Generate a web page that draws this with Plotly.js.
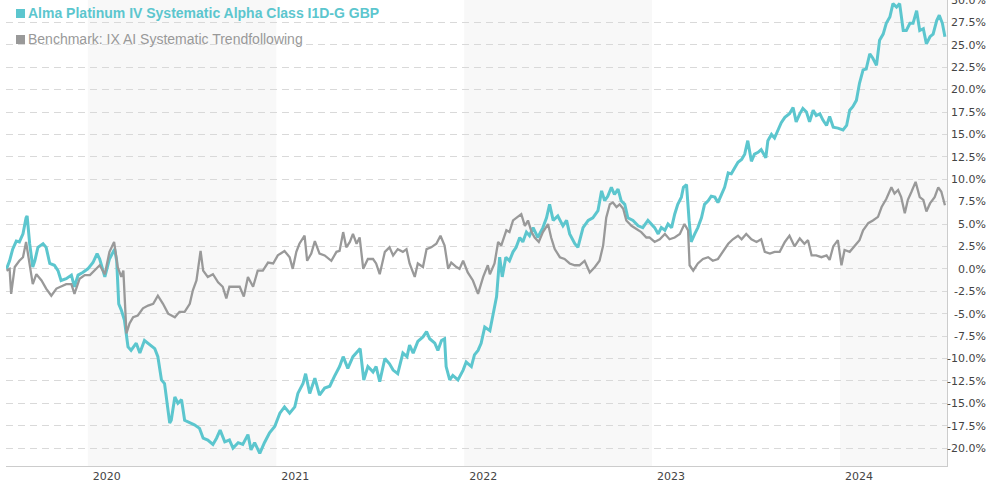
<!DOCTYPE html>
<html>
<head>
<meta charset="utf-8">
<script src="https://cdn.plot.ly/plotly-3.0.1.min.js"></script>
<style>
  html, body { margin: 0; padding: 0; background: #ffffff; }
  #chart { width: 989px; height: 485px; }
</style>
</head>
<body>
<div id="chart"></div>
<script>
// ---- Data ----
const fundName = 'Alma Platinum IV Systematic Alpha Class I1D-G GBP';
const benchName = 'Benchmark: IX AI Systematic Trendfollowing';

const fundDates = [
'2019-07-27','2019-08-02','2019-08-08','2019-08-15','2019-08-21','2019-08-28','2019-09-03','2019-09-05','2019-09-10','2019-09-16',
'2019-09-20','2019-09-26','2019-10-06','2019-10-12','2019-10-19','2019-10-28','2019-11-04','2019-11-10','2019-11-20','2019-11-30',
'2019-12-06','2019-12-13','2019-12-22','2020-01-01','2020-01-11','2020-01-19','2020-01-24','2020-02-03','2020-02-12','2020-02-22',
'2020-02-26','2020-03-01','2020-03-06','2020-03-12','2020-03-19','2020-03-25','2020-04-04','2020-04-11','2020-04-20','2020-04-30',
'2020-05-10','2020-05-16','2020-05-23','2020-05-29','2020-06-05','2020-06-08',
'2020-06-11','2020-06-18','2020-06-24','2020-07-01','2020-07-07','2020-07-17','2020-07-26','2020-08-05','2020-08-12','2020-08-21',
'2020-08-31','2020-09-07','2020-09-14','2020-09-23','2020-10-02','2020-10-09','2020-10-19','2020-10-28','2020-11-07','2020-11-13',
'2020-11-20','2020-11-30','2020-12-09','2020-12-19','2020-12-29','2021-01-08','2021-01-17','2021-01-27','2021-02-06','2021-02-12',
'2021-02-22','2021-02-27','2021-03-07','2021-03-17','2021-03-26','2021-04-05',
'2021-04-15','2021-04-24','2021-05-04','2021-05-11','2021-05-20','2021-05-30','2021-06-06','2021-06-13','2021-06-20','2021-06-28',
'2021-07-08','2021-07-14','2021-07-21','2021-07-31','2021-08-09','2021-08-16','2021-08-25','2021-09-04','2021-09-12','2021-09-17',
'2021-09-24','2021-10-03','2021-10-13','2021-10-20','2021-10-26','2021-11-05','2021-11-11','2021-11-18','2021-11-24','2021-11-27',
'2021-12-04','2021-12-10','2021-12-20','2021-12-30','2022-01-05','2022-01-15','2022-01-21','2022-01-28','2022-02-03','2022-02-10',
'2022-02-20','2022-02-26','2022-03-05','2022-03-11',
'2022-03-16','2022-03-23','2022-03-30','2022-04-06','2022-04-12','2022-04-19','2022-04-25','2022-05-02','2022-05-08','2022-05-15',
'2022-05-24','2022-06-03','2022-06-10','2022-06-16','2022-06-23','2022-07-02','2022-07-12','2022-07-19','2022-07-25','2022-08-04',
'2022-08-10','2022-08-20','2022-08-30','2022-09-08','2022-09-18','2022-09-25','2022-10-01','2022-10-07','2022-10-14','2022-10-20',
'2022-10-27','2022-11-02','2022-11-09','2022-11-15','2022-11-25','2022-12-05','2022-12-14','2022-12-24',
'2023-01-06','2023-01-13','2023-01-19','2023-01-26','2023-02-01','2023-02-08','2023-02-14','2023-02-20','2023-02-27','2023-03-03',
'2023-03-09','2023-03-14','2023-03-18','2023-03-25','2023-03-31','2023-04-07','2023-04-13','2023-04-20','2023-04-26','2023-05-03',
'2023-05-09','2023-05-16','2023-05-22','2023-05-29','2023-06-04','2023-06-11','2023-06-17','2023-06-24','2023-06-30','2023-07-06',
'2023-07-13','2023-07-19','2023-07-26','2023-08-01','2023-08-10','2023-08-14','2023-08-21','2023-08-27','2023-09-03','2023-09-09',
'2023-09-16','2023-09-22',
'2023-09-25','2023-10-02','2023-10-08','2023-10-15','2023-10-21','2023-10-28','2023-11-03','2023-11-10','2023-11-16','2023-11-23',
'2023-11-29','2023-12-06','2023-12-12','2023-12-19','2023-12-28','2024-01-07','2024-01-14','2024-01-20','2024-01-26','2024-02-02',
'2024-02-08','2024-02-15','2024-02-21','2024-02-28','2024-03-05','2024-03-12','2024-03-18','2024-03-25','2024-03-31','2024-04-07',
'2024-04-13','2024-04-20','2024-04-26','2024-05-03','2024-05-09','2024-05-16','2024-05-22','2024-05-29','2024-06-04','2024-06-11',
'2024-06-17','2024-06-24','2024-06-30','2024-07-07','2024-07-12','2024-07-18','2024-07-23'
];
const fundValues = [
0.0,0.9,2.2,3.1,3.0,3.9,5.7,5.9,2.8,0.2,
0.9,2.4,2.8,2.4,0.6,0.4,-0.2,-1.3,-1.1,-0.7,
-2.0,-0.7,-0.4,0.0,0.7,1.7,1.1,-0.9,1.1,2.2,
0.9,-3.9,-4.6,-5.7,-8.7,-9.1,-8.3,-9.4,-8.0,-8.5,
-8.9,-9.8,-12.4,-12.8,-16.1,-17.2,
-16.9,-14.3,-15.0,-14.6,-16.9,-17.2,-17.4,-17.8,-18.9,-19.1,
-19.6,-18.9,-18.0,-19.3,-19.1,-20.0,-19.4,-19.6,-18.5,-20.2,
-19.4,-20.6,-19.4,-18.3,-17.6,-16.1,-15.4,-16.1,-15.4,-13.9,
-12.8,-11.7,-13.9,-12.2,-14.1,-13.3,
-13.1,-12.0,-10.9,-9.8,-11.1,-9.8,-9.4,-8.9,-12.4,-10.9,
-11.5,-10.9,-12.6,-10.0,-10.6,-11.3,-11.7,-9.4,-9.8,-8.5,
-9.4,-8.1,-7.6,-7.0,-7.8,-8.3,-9.1,-8.0,-7.8,-10.9,
-12.4,-11.9,-12.4,-11.3,-10.4,-10.9,-9.6,-9.1,-8.3,-6.5,
-6.9,-5.0,-3.1,1.3,
-0.9,1.3,0.9,1.9,2.4,3.5,3.0,4.1,3.7,4.6,
3.5,4.6,5.7,7.2,5.4,5.9,4.8,5.4,3.9,2.8,
2.4,4.6,5.4,5.7,6.5,8.7,7.6,8.1,9.1,8.3,
8.9,7.6,7.2,5.7,5.4,4.8,4.6,5.4,
4.6,3.9,4.6,4.3,5.0,4.6,6.1,7.2,8.0,9.1,
9.4,5.4,3.0,3.9,4.6,5.7,7.2,7.6,8.1,8.0,
7.4,8.3,9.1,10.7,10.6,11.3,11.9,12.2,12.8,14.3,
12.0,12.8,13.0,13.3,12.4,14.3,15.0,14.6,15.6,16.3,
16.9,17.2,
17.3,18.0,16.4,17.3,17.9,17.5,16.4,17.7,17.1,17.3,
16.6,16.0,17.0,15.8,15.7,15.5,16.0,17.7,18.1,18.8,
20.7,22.2,22.3,24.0,23.5,22.7,25.5,26.2,27.4,28.1,
29.6,29.2,29.6,26.6,26.6,27.4,27.4,28.8,26.6,26.8,
25.1,25.9,26.2,27.7,28.3,27.4,25.9
];

const benchDates = [
'2019-07-27','2019-08-02','2019-08-05','2019-08-12','2019-08-21','2019-08-28','2019-09-03','2019-09-10','2019-09-16','2019-09-23',
'2019-10-03','2019-10-12','2019-10-22','2019-11-01','2019-11-10','2019-11-20','2019-11-30','2019-12-06','2019-12-16','2019-12-26',
'2020-01-05','2020-01-14','2020-01-24','2020-02-03','2020-02-12','2020-02-21','2020-02-28','2020-03-06','2020-03-10','2020-03-16',
'2020-03-22','2020-03-29','2020-04-07','2020-04-17','2020-04-27','2020-05-07','2020-05-16','2020-05-26','2020-06-05',
'2020-06-18','2020-06-27','2020-07-07','2020-07-17','2020-07-23','2020-07-30','2020-08-07','2020-08-12','2020-08-21','2020-08-31',
'2020-09-10','2020-09-19','2020-09-26','2020-10-02','2020-10-12','2020-10-22','2020-10-30','2020-11-07','2020-11-17','2020-11-26',
'2020-12-06','2020-12-16','2020-12-26','2021-01-04','2021-01-17','2021-01-27','2021-02-02','2021-02-09','2021-02-15','2021-02-25',
'2021-03-02','2021-03-10','2021-03-17','2021-03-26','2021-04-05',
'2021-04-18','2021-04-28','2021-05-04','2021-05-11','2021-05-17','2021-05-24','2021-05-30','2021-06-06','2021-06-12','2021-06-19',
'2021-06-28','2021-07-08','2021-07-14','2021-07-21','2021-07-31','2021-08-09','2021-08-16','2021-08-25','2021-09-04','2021-09-11',
'2021-09-17','2021-09-27','2021-10-03','2021-10-13','2021-10-20','2021-10-29','2021-11-08','2021-11-16','2021-11-24','2021-12-01',
'2021-12-07','2021-12-17','2021-12-23','2021-12-30','2022-01-08','2022-01-18','2022-01-28','2022-02-07','2022-02-16',
'2022-02-20','2022-03-01','2022-03-08','2022-03-14','2022-03-24','2022-03-30','2022-04-06','2022-04-16','2022-04-22','2022-04-29',
'2022-05-05','2022-05-12','2022-05-18','2022-05-26','2022-06-03','2022-06-13','2022-06-19','2022-06-26','2022-07-06','2022-07-15',
'2022-07-25','2022-08-04','2022-08-13','2022-08-23','2022-09-02','2022-09-12','2022-09-21','2022-09-28','2022-10-04','2022-10-11',
'2022-10-17','2022-10-24','2022-10-30','2022-11-06','2022-11-12','2022-11-22','2022-12-02','2022-12-11','2022-12-21',
'2022-12-27','2023-01-06','2023-01-16','2023-01-26','2023-02-04','2023-02-14','2023-02-24','2023-03-05','2023-03-12','2023-03-15',
'2023-03-22','2023-03-31','2023-04-10','2023-04-20','2023-04-29','2023-05-09','2023-05-19','2023-05-29','2023-06-07','2023-06-17',
'2023-06-24','2023-07-03','2023-07-13','2023-07-23','2023-08-01','2023-08-08','2023-08-18','2023-08-27','2023-09-06','2023-09-16',
'2023-09-25',
'2023-10-05','2023-10-15','2023-10-24','2023-10-31','2023-11-07','2023-11-16','2023-11-26','2023-12-06','2023-12-12','2023-12-19',
'2023-12-28','2024-01-04','2024-01-10','2024-01-20','2024-01-30','2024-02-08','2024-02-15','2024-02-25','2024-03-05','2024-03-15',
'2024-03-22','2024-03-31','2024-04-10','2024-04-16','2024-04-23','2024-04-29','2024-05-06','2024-05-12','2024-05-19','2024-05-27',
'2024-06-04','2024-06-11','2024-06-17','2024-06-24','2024-07-03','2024-07-10','2024-07-16','2024-07-23'
];
const benchValues = [
-0.2,0.0,-2.8,0.2,0.9,1.3,3.0,0.2,-1.7,-0.6,
-1.3,-2.2,-3.0,-2.2,-2.0,-1.7,-1.7,-2.8,-1.1,-0.7,
-0.7,-0.2,0.4,-0.6,1.9,3.0,0.2,-0.9,-0.2,-7.2,
-6.1,-5.4,-5.2,-4.4,-4.1,-3.9,-3.0,-3.9,-5.0,
-5.4,-4.8,-4.8,-3.9,-2.4,-1.3,2.0,-0.2,-0.9,-0.6,
-1.5,-2.0,-3.3,-2.0,-2.0,-2.0,-3.1,-0.9,-2.0,-0.2,
-0.2,0.7,0.6,1.5,2.0,1.3,0.0,1.9,2.8,3.7,
0.9,1.7,3.1,1.7,1.5,
0.9,1.9,2.0,4.1,2.4,3.0,3.9,2.8,3.5,0.0,
1.1,1.1,0.6,-0.6,1.9,2.4,1.5,2.2,1.9,2.2,
0.6,-0.9,0.6,0.2,2.2,2.4,2.8,3.7,2.6,0.0,
0.7,0.2,0.0,0.9,-0.4,-1.3,-2.8,-0.9,0.4,
-0.6,0.6,3.0,2.6,4.3,4.1,5.4,5.9,6.1,4.8,
5.4,4.1,3.5,3.0,4.1,5.0,3.5,2.2,1.3,1.1,
0.6,0.4,0.4,0.9,-0.4,0.2,0.9,2.6,5.7,7.2,
7.4,6.9,7.2,6.7,5.4,4.8,4.4,4.1,3.5,
3.5,3.0,3.3,3.9,3.3,3.5,3.9,5.0,4.3,0.4,
-0.2,0.6,1.1,1.3,0.9,1.1,2.0,2.8,3.3,3.7,
3.3,3.9,3.3,3.0,3.3,1.9,1.7,1.9,1.9,3.0,
3.7,
2.5,3.4,2.8,3.2,1.5,1.5,1.3,1.5,1.0,2.5,
3.2,0.4,2.1,1.9,2.6,3.2,4.3,5.1,5.4,5.8,
6.9,7.8,9.1,8.4,8.8,8.0,6.2,7.7,8.6,9.7,
8.0,7.7,6.4,7.3,8.0,9.1,8.6,7.1
];

// axis ticks & shaded years
const yTickVals = [-20,-17.5,-15,-12.5,-10,-7.5,-5,-2.5,0,2.5,5,7.5,10,12.5,15,17.5,20,22.5,25,27.5,30];
const yTickText = ['-20.0%','-17.5%','-15.0%','-12.5%','-10.0%','-7.5%','-5.0%','-2.5%','0.0%','2.5%','5.0%','7.5%',
                   '10.0%','12.5%','15.0%','17.5%','20.0%','22.5%','25.0%','27.5%','30.0%'];
const xTickVals = ['2020-01-01','2021-01-01','2022-01-01','2023-01-01','2024-01-01'];
const xTickText = ['2020','2021','2022','2023','2024'];
const shadedYears = [['2020-01-01','2021-01-01'],['2022-01-01','2023-01-01'],['2024-01-01','2024-07-27']];
const xRange = ['2019-07-26','2024-07-27'];
const yRange = [-22, 30];

// ---- Styles ----
const fundColor = '#5cc6ce';
const benchColor = '#999999';
const tickFont = {family: 'DejaVu Sans, Verdana, sans-serif', size: 11, color: '#444444'};

const traces = [
  {x: fundDates, y: fundValues, type: 'scatter', mode: 'lines', name: fundName,
   line: {color: fundColor, width: 3}, showlegend: false, hoverinfo: 'skip'},
  {x: benchDates, y: benchValues, type: 'scatter', mode: 'lines', name: benchName,
   line: {color: benchColor, width: 2.3}, showlegend: false, hoverinfo: 'skip'},
  {x: [null], y: [null], type: 'scatter', mode: 'lines', yaxis: 'y2', showlegend: false, hoverinfo: 'skip'}
];

const shapes = shadedYears.map(b => ({
  type: 'rect', xref: 'x', yref: 'paper', x0: b[0], x1: b[1], y0: 0, y1: 1,
  fillcolor: '#f8f8f8', line: {width: 0}, layer: 'below'
}));
// legend squares (pixel-sized, anchored at the top-left corner of the plot area)
shapes.push({type: 'rect', xref: 'paper', yref: 'paper', xsizemode: 'pixel', ysizemode: 'pixel',
  xanchor: 0, yanchor: 1, x0: 10, x1: 19, y0: -9, y1: -18, fillcolor: fundColor, line: {width: 0}});
shapes.push({type: 'rect', xref: 'paper', yref: 'paper', xsizemode: 'pixel', ysizemode: 'pixel',
  xanchor: 0, yanchor: 1, x0: 10, x1: 19, y0: -35, y1: -44, fillcolor: benchColor, line: {width: 0}});

const annotations = [
  {xref: 'paper', yref: 'paper', x: 0, y: 1, xshift: 20, yshift: -13, xanchor: 'left', yanchor: 'middle',
   showarrow: false, text: '<b>' + fundName + '</b>',
   font: {family: 'Liberation Sans, Arial, sans-serif', size: 14, color: fundColor}},
  {xref: 'paper', yref: 'paper', x: 0, y: 1, xshift: 20, yshift: -39, xanchor: 'left', yanchor: 'middle',
   showarrow: false, text: benchName,
   font: {family: 'Liberation Sans, Arial, sans-serif', size: 14, color: benchColor}}
];

const layout = {
  width: 989, height: 485,
  margin: {l: 6, r: 0, t: 0, b: 19, pad: 0},
  paper_bgcolor: '#ffffff', plot_bgcolor: '#ffffff',
  showlegend: false,
  xaxis: {
    type: 'date', range: xRange, domain: [0, 941/983],
    tickvals: xTickVals, ticktext: xTickText, ticklabelshift: 19,
    ticks: '', showgrid: false, zeroline: false,
    showline: true, linecolor: '#cccccc', linewidth: 1,
    tickfont: tickFont, fixedrange: true
  },
  yaxis: {
    range: yRange, side: 'right', anchor: 'x',
    tickvals: yTickVals, showticklabels: false, ticks: '',
    showgrid: true, gridcolor: '#d9d9d9', gridwidth: 1, griddash: '7px,5px',
    zeroline: false, showline: true, linecolor: '#cccccc', linewidth: 1, fixedrange: true
  },
  yaxis2: {
    range: yRange, overlaying: 'y', side: 'right', anchor: 'free', position: 1,
    tickvals: yTickVals, ticktext: yTickText,
    ticklabelposition: 'inside', ticklabeloverflow: 'allow', ticks: '',
    showgrid: false, zeroline: false, showline: false,
    tickfont: tickFont, fixedrange: true
  },
  shapes: shapes,
  annotations: annotations
};

Plotly.newPlot('chart', traces, layout, {displayModeBar: false, staticPlot: true});
</script>
</body>
</html>
